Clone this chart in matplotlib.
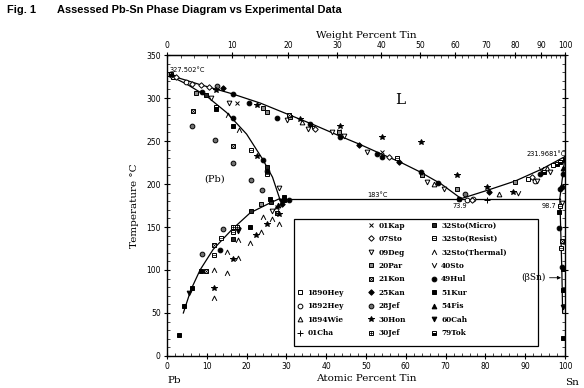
import numpy as np
import matplotlib
matplotlib.use("Agg")
import matplotlib.pyplot as plt
from matplotlib.path import Path
from matplotlib.lines import Line2D
from matplotlib.patches import Rectangle

# ---------------- phase boundaries (at.% Sn, degC) ----------------
liq_left_x = [0, 8, 16.3, 23.5, 30.4, 36.8, 42.8, 48.5, 53.8, 58.8, 63.6, 68.9, 73.9]
liq_left_t = [327.502, 316, 305, 294, 281, 269, 257, 246, 235, 225, 214, 200, 183]
liq_right_x = [73.9, 80.7, 87.5, 94.0, 100]
liq_right_t = [183, 193, 203.5, 217, 231.9681]
sol_pb_x = [0, 5, 10, 15, 20, 24, 26.5, 28.3]
sol_pb_t = [327.502, 316, 302, 283, 258, 229, 208, 183]
solv_pb_x = [28.3, 25.9, 20.9, 16.3, 11.6, 8.3, 6.0, 4.1]
solv_pb_t = [183, 178, 166.5, 147, 124, 100, 77, 50]
sol_sn_x = [100, 98.7]
sol_sn_t = [231.9681, 183]
solv_sn_x = [98.7, 98.9, 99.2, 99.4]
solv_sn_t = [183, 150, 100, 50]
eut_x = [28.3, 98.7]
eut_t = [183, 183]

# ---------------- experimental data (at.% Sn, degC) ----------------
hey1890_x = [1.5, 90.8, 97.0]
hey1890_t = [325, 206, 221.7]
hey1892_x = [1.0, 4.8, 75.4, 77.0, 92.5]
hey1892_t = [326.5, 319, 181, 183, 204]
wie1894_x = [34, 67, 83.3, 95.5]
wie1894_t = [272, 200, 188.6, 219]
cha01_x = [80.4, 99.6, 36.5]
cha01_t = [181, 227.5, 268]
kap01_x = [17.7, 54, 64, 73.3, 27.7, 43.3]
kap01_t = [293.7, 237, 211, 183, 173, 262]
sto07_x = [2.2, 6.4, 8.5, 37.3, 55.7, 76.6, 91.6, 10.5]
sto07_t = [325, 316, 315, 264, 231, 181, 208, 313]
deg09_x = [11, 15.6, 30.2, 35.3, 41.5, 44.4, 50.3, 65.3, 69.5, 92.9, 96.2, 28.1, 26.5, 99.2]
deg09_t = [300, 293.7, 274, 264, 260.5, 256, 237, 202, 194.5, 204, 214, 195, 169, 178]
par20_x = [0.5, 7.3, 31, 43.2, 64, 72.9, 87.5, 24, 25.2, 23.6]
par20_t = [327.5, 305.7, 278, 260.5, 211, 194.5, 202, 288, 284, 177]
kon21_x = [6.6, 16.7, 27.6, 9.8, 11.9, 99.2, 30.7]
kon21_t = [284.7, 244, 166.5, 99, 129.5, 134, 280]
kan25_x = [48.2, 58.2, 80.8, 29, 17.9, 14]
kan25_t = [245, 225.5, 190.6, 177, 149, 312]
jef28_x = [6.4, 12.1, 16.7, 21, 23.8, 8.9, 14, 74.9, 12.5]
jef28_t = [267.6, 251.7, 225, 205, 192.5, 119, 148, 188.6, 314]
hon30_x = [12.3, 22.7, 43.4, 54, 63.9, 72.9, 80.4, 87, 22.6, 25.2, 22.3, 16.5, 11.9, 28.1, 33.5]
hon30_t = [309, 292, 268, 255, 249, 210, 196.4, 190.6, 232.5, 153.6, 141, 112.7, 79, 165, 276]
jef30_x = [16.5, 17.7]
jef30_t = [150, 150]
stom32_x = [21, 26, 25.2, 16.5, 9.8]
stom32_t = [169, 179, 220, 136, 304]
stor32_x = [12.3, 21, 25.2, 16.5, 13.5, 11.9, 57.8, 98.7, 98.9]
stor32_t = [289.7, 240, 212, 144, 137, 117, 230, 175, 126]
stot32_x = [15.2, 18.1, 24, 26.5, 28.1, 23.6, 20.9, 17.9, 15, 17.9, 11.9, 15, 11.9, 27.5]
stot32_t = [280, 263, 161.5, 159.5, 153.6, 144, 131, 135, 120.5, 114, 100, 96, 68, 172]
sto40_x = [88.3, 94.0]
sto40_t = [189, 218]
hul49_x = [8.9, 16.5, 20.6, 27.7, 36, 43.4, 52.8, 54, 63.7, 68.2, 73.3, 93.7, 99.6, 99.2,
           98.7, 98.6, 99.2, 16.7, 24, 25.2, 30.7, 13.4]
hul49_t = [307, 305, 294, 277, 270, 255, 235, 231, 214, 201, 182, 212, 212, 196,
           194.5, 149, 103, 277, 227.5, 215, 181, 123.7]
kur51_x = [16.5, 25.9, 29.4, 20.9, 8.5, 6.3, 4.3, 3.0, 99.6, 99.6, 99.6, 98.6, 29.4, 12.3]
kur51_t = [267.6, 182, 181, 150.5, 99, 79, 58, 24, 101, 77, 21, 167, 184.7, 287]
fis54_x = [27.9, 99.5]
fis54_t = [176, 219]
cah60_x = [5.6, 17.9, 99.6, 28.6]
cah60_t = [73, 145, 57.5, 180]
tok79_x = [1.0, 94.6, 97.9, 98.7]
tok79_t = [328.5, 214, 223.6, 225.5]

wt_ticks = [0, 10, 20, 30, 40, 50, 60, 70, 80, 90, 100]
at_ticks = [0, 10, 20, 30, 40, 50, 60, 70, 80, 90, 100]
t_ticks = [0, 50, 100, 150, 200, 250, 300, 350]

M_SN, M_PB = 118.71, 207.2


def at2wt(a):
    a = np.asarray(a, dtype=float)
    with np.errstate(divide="ignore", invalid="ignore"):
        return 100 * a * M_SN / (a * M_SN + (100 - a) * M_PB)


def wt2at(w):
    w = np.asarray(w, dtype=float)
    with np.errstate(divide="ignore", invalid="ignore"):
        return 100 * (w / M_SN) / (w / M_SN + (100 - w) / M_PB)


fig = plt.figure(figsize=(5.84, 3.88), dpi=100)
ax = fig.add_axes([0.286, 0.0825, 0.6815, 0.7757])
ax.set_xlim(0, 100)
ax.set_ylim(0, 350)

lw = 0.9
for xs, ts in [(liq_left_x, liq_left_t), (liq_right_x, liq_right_t), (sol_pb_x, sol_pb_t),
               (solv_pb_x, solv_pb_t), (sol_sn_x, sol_sn_t), (solv_sn_x, solv_sn_t),
               (eut_x, eut_t)]:
    ax.plot(xs, ts, color="black", lw=lw, zorder=2)

caret_up = Path([(-1, -1), (0, 1), (1, -1)], [Path.MOVETO, Path.LINETO, Path.LINETO])
caret_dn = Path([(-1, 1), (0, -1), (1, 1)], [Path.MOVETO, Path.LINETO, Path.LINETO])

ms = 3.4
mew = 0.7


def mk(x, t, marker, face="white", ms_=ms, edge="black", fill="full", zo=3):
    return ax.plot(x, t, linestyle="none", marker=marker, ms=ms_, mfc=face, mec=edge,
                   mew=mew, fillstyle=fill, zorder=zo)[0]


def combo(x, t, base, over, face="white"):
    h1 = mk(x, t, base, face=face)
    h2 = ax.plot(x, t, linestyle="none", marker=over, ms=ms * 0.95, mec="black",
                 mew=0.5, zorder=4)[0]
    return (h1, h2)


h = {}
h["1890Hey"] = mk(hey1890_x, hey1890_t, "s")
h["1892Hey"] = mk(hey1892_x, hey1892_t, "o")
h["1894Wie"] = mk(wie1894_x, wie1894_t, "^")
h["01Cha"] = mk(cha01_x, cha01_t, "+", ms_=3.8)
h["01Kap"] = mk(kap01_x, kap01_t, "x")
h["07Sto"] = mk(sto07_x, sto07_t, "D", ms_=2.8)
h["09Deg"] = mk(deg09_x, deg09_t, "v")
h["20Par"] = mk(par20_x, par20_t, "s", face="0.55")
h["21Kon"] = combo(kon21_x, kon21_t, "s", "x")
h["25Kan"] = mk(kan25_x, kan25_t, "D", face="black", ms_=2.8)
h["28Jef"] = mk(jef28_x, jef28_t, "o", face="0.45")
h["30Hon"] = mk(hon30_x, hon30_t, "*", face="black", ms_=4.4)
h["30Jef"] = combo(jef30_x, jef30_t, "s", "+")
h["32Sto(Micro)"] = mk(stom32_x, stom32_t, "s", face="0.15")
h["32Sto(Resist)"] = combo(stor32_x, stor32_t, "s", "_")
h["32Sto(Thermal)"] = mk(stot32_x, stot32_t, caret_up, face="none")
h["40Sto"] = mk(sto40_x, sto40_t, caret_dn, face="none")
h["49Hul"] = mk(hul49_x, hul49_t, "o", face="black")
h["51Kur"] = mk(kur51_x, kur51_t, "s", face="black")
h["54Fis"] = mk(fis54_x, fis54_t, "^", face="black")
h["60Cah"] = mk(cah60_x, cah60_t, "v", face="black")
h["79Tok"] = mk(tok79_x, tok79_t, "s", face="black", fill="bottom")

col1 = [None] * 5 + ["1890Hey", "1892Hey", "1894Wie", "01Cha"]
col2 = ["01Kap", "07Sto", "09Deg", "20Par", "21Kon", "25Kan", "28Jef", "30Hon", "30Jef"]
col3 = ["32Sto(Micro)", "32Sto(Resist)", "32Sto(Thermal)", "40Sto", "49Hul", "51Kur",
        "54Fis", "60Cah", "79Tok"]
handles, labels = [], []
for name in col1 + col2 + col3:
    if name is None:
        handles.append(Line2D([], [], linestyle="none", marker="none"))
        labels.append(" ")
    else:
        handles.append(h[name])
        labels.append(name)

ax.add_patch(Rectangle((0.319, 0.033), 0.613, 0.422, transform=ax.transAxes, fill=False,
                       lw=0.9, edgecolor="black", zorder=5))
leg = ax.legend(handles, labels, ncol=3, loc="upper left", bbox_to_anchor=(0.319, 0.455),
                frameon=False, borderaxespad=0, borderpad=0.35, handlelength=0.9,
                handletextpad=0.55, columnspacing=3.3, labelspacing=0.74,
                prop={"family": "DejaVu Serif", "weight": "bold", "size": 5.3})

# ---------------- axes, ticks ----------------
ax.set_xticks(at_ticks)
ax.set_yticks(t_ticks)
ax.set_xticks(np.arange(0, 101, 2), minor=True)
ax.set_yticks(np.arange(0, 351, 10), minor=True)
ax.tick_params(which="major", direction="inout", length=5, width=0.8, labelsize=5.5,
               top=False, right=True, pad=2)
ax.tick_params(which="minor", direction="in", length=2, width=0.5, top=False, right=True)
for s in ax.spines.values():
    s.set_linewidth(1.0)

sec = ax.secondary_xaxis("top", functions=(at2wt, wt2at))
sec.set_xticks(wt_ticks)
sec.set_xticks(np.arange(0, 101, 2), minor=True)
sec.tick_params(which="major", direction="inout", length=5, width=0.8, labelsize=5.5, pad=1)
sec.tick_params(which="minor", direction="in", length=2, width=0.5)

serif = "DejaVu Serif"
sec.set_xlabel("Weight Percent Tin", family=serif, fontsize=7.5, labelpad=2)
ax.set_xlabel("Atomic Percent Tin", family=serif, fontsize=7.5, labelpad=2)
ax.set_ylabel("Temperature \u00b0C", family=serif, fontsize=7.5, labelpad=5)

ax.text(0.0, -0.083, "Pb", transform=ax.transAxes, family=serif, fontsize=7.5,
        ha="left", va="center")
ax.text(1.0176, -0.088, "Sn", transform=ax.transAxes, family=serif, fontsize=7.5,
        ha="center", va="center")

# ---------------- annotations ----------------
ax.text(0.7, 333, "327.502\u00b0C", fontsize=4.8, ha="left", va="center")
ax.text(58.5, 298, "L", family=serif, fontsize=11, ha="center", va="center")
ax.text(12, 206, "(Pb)", family=serif, fontsize=7, ha="center", va="center")
ax.text(52.8, 187, "183\u00b0C", fontsize=4.8, ha="center", va="center")
ax.text(73.5, 174.5, "73.9", fontsize=4.8, ha="center", va="center")
ax.text(100.3, 234.5, "231.9681\u00b0C", fontsize=4.8, ha="right", va="center")
ax.text(97.8, 175, "98.7", fontsize=4.8, ha="right", va="center")
ax.annotate("(\u03b2Sn)", xy=(99.0, 91), xytext=(92.0, 91), family=serif, fontsize=6.5,
            ha="center", va="center",
            arrowprops=dict(arrowstyle="-|>", lw=0.6, color="black", mutation_scale=5,
                            shrinkA=1, shrinkB=0))

title_font = ["Liberation Sans Narrow", "Liberation Sans"]
fig.text(0.012, 0.974, "Fig. 1", family=title_font, weight="bold", fontsize=7.9,
         ha="left", va="center")
fig.text(0.098, 0.974, "Assessed Pb-Sn Phase Diagram vs Experimental Data",
         family=title_font, weight="bold", fontsize=7.9, ha="left", va="center")

fig.savefig("out.png", dpi=100)
